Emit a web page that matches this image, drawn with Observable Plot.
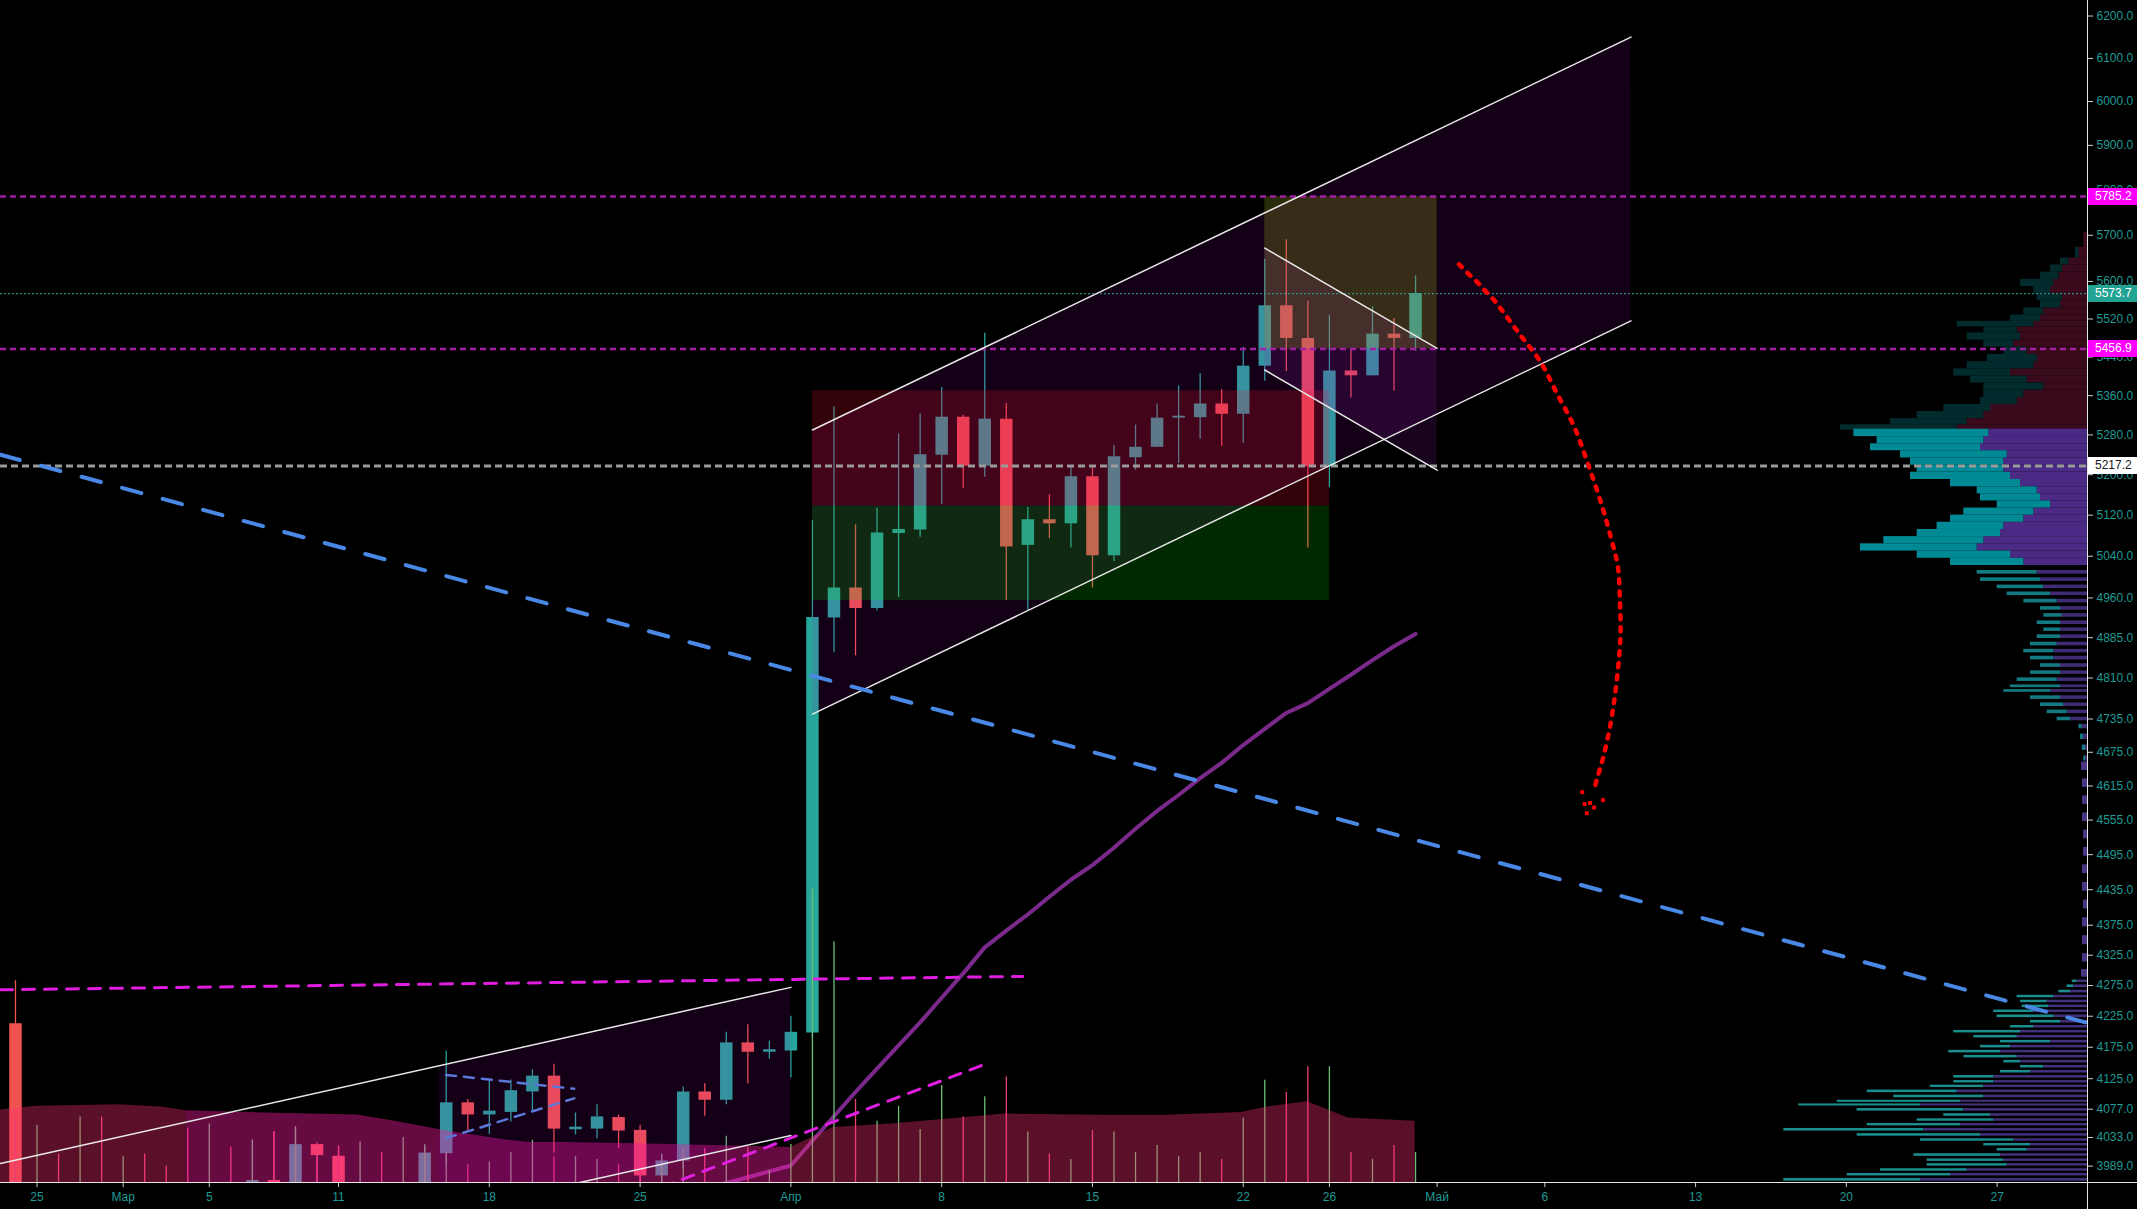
<!DOCTYPE html>
<html><head><meta charset="utf-8">
<script src="https://cdn.jsdelivr.net/npm/d3@7"></script>
<script src="https://cdn.jsdelivr.net/npm/@observablehq/plot@0.6"></script>
<style>
html,body{margin:0;padding:0;background:#000;}
#wrap{position:relative;width:2137px;height:1209px;overflow:hidden;background:#000;font-family:"Liberation Sans","DejaVu Sans",Arial,sans-serif;}
#wrap svg{position:absolute;left:0;top:0;}
#wrap svg [aria-label="y-axis tick"] path,#wrap svg [aria-label="x-axis tick"] path,#wrap svg g[aria-label="y-axis"] line,#wrap svg g[aria-label="x-axis"] line{stroke:#cfcfcf;}
.lbl{position:absolute;left:2088px;width:49px;height:17px;line-height:17px;font-size:12px;padding-left:7px;box-sizing:border-box;font-family:"Liberation Sans","DejaVu Sans",Arial,sans-serif;}
.axl{position:absolute;background:#e6e6e6;}
</style></head><body><div id="wrap"></div>
<script>
// ---------- DATA ----------
// x = days since 25 Feb 2019
const xDomain = [-1.6945, 95.195];
const yDomain = [3964, 6237];
const tickDays = [0, 4, 8, 14, 21, 28, 35, 42, 49, 56, 60, 65, 70, 77, 84, 91];
const tickLabels = ["25", "Мар", "5", "11", "18", "25", "Апр", "8", "15", "22", "26", "Май", "6", "13", "20", "27"];
const yTicks = [6200, 6100, 6000, 5900, 5800, 5700, 5600, 5520, 5440, 5360, 5280, 5200, 5120, 5040, 4960, 4885, 4810, 4735, 4675, 4615, 4555, 4495, 4435, 4375, 4325, 4275, 4225, 4175, 4125, 4077, 4033, 3989];

const candleDay = [-1, 10, 11, 12, 13, 14, 18, 19, 20, 21, 22, 23, 24, 25, 26, 27, 28, 29, 30, 31, 32, 33, 34, 35, 36, 37, 38, 39, 40, 41, 42, 43, 44, 45, 46, 47, 48, 49, 50, 51, 52, 53, 54, 55, 56, 57, 58, 59, 60, 61, 62, 63, 64];
const candleOpen = [4213, 3930, 3967, 3940, 4022, 4004, 3950, 4008, 4087, 4068, 4072, 4104, 4129, 4045, 4046, 4064, 4044, 3974, 3997, 4104, 4091, 4182, 4167, 4169, 4198, 4922, 4979, 4940, 5084, 5091, 5239, 5316, 5217, 5312, 5061, 5111, 5103, 5196, 5041, 5234, 5255, 5314, 5315, 5343, 5322, 5421, 5548, 5479, 5216, 5411, 5401, 5488, 5479];
const candleHigh = [4283, 4029, 4042, 4048, 4025, 4020, 4022, 4169, 4092, 4123, 4123, 4139, 4148, 4071, 4084, 4068, 4052, 4008, 4112, 4117, 4199, 4211, 4185, 4225, 5109, 5337, 5101, 5134, 5282, 5323, 5377, 5320, 5490, 5344, 5135, 5160, 5217, 5217, 5258, 5300, 5343, 5380, 5406, 5372, 5460, 5648, 5690, 5558, 5528, 5456, 5546, 5521, 5612];
const candleLow = [3850, 3900, 3900, 3930, 3960, 3880, 3940, 3990, 4042, 4038, 4057, 4074, 4009, 4037, 4031, 4016, 3950, 3960, 3985, 4066, 4084, 4117, 4156, 4126, 4190, 4857, 4851, 4935, 4961, 5077, 5141, 5173, 5195, 4955, 4935, 5074, 5056, 4979, 5030, 5209, 5254, 5222, 5271, 5257, 5263, 5390, 5410, 5056, 5174, 5355, 5401, 5369, 5452];
const candleClose = [3870, 3967, 3930, 4022, 4005, 3900, 4009, 4087, 4068, 4074, 4106, 4129, 4046, 4049, 4065, 4043, 3974, 3997, 4104, 4091, 4182, 4167, 4171, 4199, 4923, 4979, 4940, 5085, 5092, 5240, 5316, 5217, 5312, 5058, 5111, 5103, 5196, 5041, 5236, 5255, 5314, 5318, 5343, 5322, 5421, 5548, 5479, 5216, 5411, 5401, 5488, 5479, 5574];

const maDay = [30, 31, 32, 33, 34, 35, 36, 37, 38, 39, 40, 41, 42, 43, 44, 45, 46, 47, 48, 49, 50, 51, 52, 53, 54, 55, 56, 57, 58, 59, 60, 61, 62, 63, 64];
const maValue = [3950, 3957, 3963, 3972, 3981, 3990, 4028, 4066, 4104, 4141, 4178, 4215, 4255, 4295, 4338, 4366, 4393, 4423, 4452, 4477, 4507, 4540, 4571, 4599, 4629, 4656, 4688, 4717, 4746, 4764, 4790, 4816, 4843, 4869, 4892];

const volDay = d3.range(-1, 65);
const volValue = [21.4, 19.1, 9.5, 21.8, 21.8, 8.6, 9.5, 5.5, 18.2, 19.5, 11.8, 14.1, 16.8, 18.6, 8.6, 11.8, 13.6, 10.0, 15.0, 12.3, 10.0, 5.9, 6.8, 10.0, 14.1, 8.6, 8.6, 7.7, 5.9, 7.7, 9.1, 11.4, 11.4, 15.4, 11.8, 4.1, 12.7, 97.9, 80.2, 27.7, 20.4, 25.4, 17.7, 32.3, 21.8, 28.6, 35.2, 16.8, 9.5, 7.7, 17.3, 16.8, 10.0, 12.3, 8.6, 10.0, 7.7, 21.5, 34.1, 30.0, 38.6, 38.6, 10.0, 7.7, 12.3, 10.0];
const volRising = [0,1,0,1,0,1,0,0,0,1, 0,1,0,1,0,0,1,0,1,1, 1,0,1,1,1,0,1,1,0,0, 1,1,0,1,0,1,1,1,1,0, 1,1,1,1,0,1,0,1,0,1, 0,1,1,1,1,1,0,1,1,0, 0,1,0,1,0,1];
const volMaDay = [-1.6945, -0.04, 3.78, 5.76, 6.93, 9.91, 14.88, 16.55, 19.03, 21.52, 22.84, 24.30, 28.35, 34.98, 36.97, 39.95, 44.93, 49.37, 52.09, 55.90, 57.06, 58.97, 60.88, 63.98];
const volMaValue = [24.2, 25.4, 25.9, 25.2, 23.9, 23.3, 22.5, 20.5, 17.2, 14.4, 13.3, 13.3, 12.8, 11.7, 18.3, 19.7, 22.8, 22.4, 22.3, 23.3, 25.1, 26.9, 21.5, 20.4];
const volMaPinkFrom = 6.93, volMaPinkTo = 34.98;

// volume profile (price rows, up volume, down volume)
const profTopPrice = [5690, 5658, 5643, 5628, 5612, 5597, 5581, 5566, 5551, 5536, 5521, 5509, 5498, 5483, 5468, 5453, 5438, 5423, 5408, 5393, 5379, 5364, 5349, 5335, 5320, 5306, 5295];
const profTopDown = [3.7, 8.7, 18.7, 25.3, 28.7, 33.7, 37, 25.3, 27, 43.7, 47, 53.7, 70.3, 67, 73.7, 60.3, 50.3, 53.7, 77, 60.3, 43.7, 63.7, 70.3, 97, 103.7, 120.3, 130.3];
const profTopUp = [0, 3.3, 8.3, 11.7, 18.3, 33.3, 16.7, 25, 20, 20, 30, 76.7, 33.3, 53.3, 30, 23.3, 50, 66.7, 56.7, 56.7, 60, 40, 36.7, 46.7, 66.7, 76.7, 116.7];
const profVaPrice = [5284, 5269, 5255, 5241, 5226, 5212, 5198, 5183, 5169, 5155, 5141, 5127, 5113, 5099, 5085, 5071, 5057, 5043, 5029];
const profVaDown = [98.7, 103.7, 107, 80.3, 83.7, 83.7, 77, 67, 50.3, 47, 37, 53.7, 63.7, 83.7, 87, 103.7, 110.3, 77, 63.7];
const profVaUp = [135, 106.7, 110, 106.7, 93.3, 86.7, 100, 70, 60, 60, 53.3, 70, 73.3, 66.7, 83.3, 100, 116.7, 93.3, 73.3];
const profLowPrice = [5009, 4995, 4981, 4968, 4954, 4940, 4927, 4913, 4900, 4887, 4873, 4860, 4847, 4833, 4820, 4807, 4794, 4787, 4774, 4761, 4748, 4735, 4722, 4703, 4683, 4664];
const profLowDown = [50.3, 47, 43.7, 37, 30.3, 27, 25.3, 27, 27, 27, 30.3, 33.7, 33.7, 27, 27, 30.3, 27, 37, 27, 23.7, 20.3, 17, 5.3, 3.7, 2, 2];
const profLowUp = [60, 60, 46.7, 43.3, 33.3, 20, 18.3, 23.3, 16.7, 23.3, 26.7, 30, 23.3, 20, 30, 40, 50, 46.7, 30, 23.3, 20, 13.3, 3.3, 3.3, 3.3, 1.7];
const profThinPrice = [4650, 4620, 4590, 4560, 4530, 4500, 4470, 4440, 4410, 4380, 4350, 4320, 4295];
const profThinDown = [6, 5, 5, 5, 4, 4, 5, 5, 4, 5, 5, 5, 6];
const profThinUp = [0, 0, 0, 0, 0, 0, 0, 0, 0, 0, 0, 0, 0];
const profBotPrice = [4282, 4274, 4265, 4257, 4249, 4241, 4233, 4225, 4216, 4208, 4200, 4192, 4184, 4176, 4168, 4160, 4152, 4144, 4136, 4128, 4120, 4113, 4105, 4097, 4089, 4084, 4076, 4068, 4060, 4053, 4045, 4037, 4029, 4022, 4014, 4006, 3998, 3991, 3983, 3976, 3968];
const profBotDown = [10.3, 13.7, 17, 33.7, 40.3, 38.7, 53.7, 33.7, 27, 53.7, 67, 70.3, 37, 77, 87, 70.3, 67, 43.7, 57, 93.7, 93.7, 103.7, 130.3, 103.7, 127, 167, 123.7, 97, 93.7, 127, 163.7, 107, 73.7, 57, 60.3, 87, 83.7, 80.3, 120.3, 137, 167];
const profBotUp = [5, 6.7, 11.7, 36.7, 26.7, 26.7, 40, 56.7, 30, 23.3, 66.7, 43.3, 50, 30, 51.7, 53.3, 16.7, 23.3, 30, 40, 40, 53.3, 90, 90, 123.3, 121.7, 106.7, 46.7, 76.7, 93.3, 140, 123.3, 93.3, 46.7, 30, 86.7, 76.7, 80, 86.7, 103.3, 136.7];

// drawings
const bigChannelDay = [36, 74], bigChannelLow = [4744, 5516], bigChannelHigh = [5290, 6150];
const smallChannelDay = [-1.6945, 35], smallChannelUpper = [3993, 4272], smallChannelLower = [3773, 4036];
const smallFillDay = [18.68, 35], smallFillLow = [3917, 4036], smallFillHigh = [4146, 4272];
const descChannelDay = [57, 65], descChannelUpper = [5672, 5458], descChannelLower = [5413, 5209];
const redZone = {d1: 36, d2: 60, p1: 5138, p2: 5370};
const greenZone = {d1: 36, d2: 60, p1: 4955, p2: 5138};
const oliveZone = {d1: 57, d2: 65, p1: 5456.9, p2: 5785.2};
const blueTrendDay = [-1.6945, 95.1], blueTrendPrice = [5240, 4215];
const wedgeDay = [18.99, 24.94], wedgeUpper = [4131, 4109], wedgeLower = [4032, 4094];
const magFlatDay = [-1.6945, 45.76], magFlatPrice = [4268, 4290];
const magDiagDay = [29.0, 43.94], magDiagPrice = [3957, 4147];
const arcDay = [66.02, 66.42, 66.83, 67.21, 67.59, 67.90, 68.85, 69.80, 70.56, 71.38, 72.01, 72.65, 73.09, 73.39, 73.49, 73.51, 73.31, 73.07, 72.72, 72.41, 72.27];
const arcPrice = [5637, 5618, 5600, 5581, 5563, 5545, 5487, 5430, 5365, 5295, 5221, 5139, 5073, 5020, 4952, 4885, 4795, 4730, 4667, 4626, 4605];
const arcTipDay = [71.74, 71.85, 72.10, 72.29, 72.70, 71.95];
const arcTipPrice = [4604, 4583, 4585, 4577, 4590, 4567];
const levelMagenta = [5785.2, 5456.9];
const levelGray = 5217.2;
const lastPrice = 5573.7;
const priceLabels = [
  {v: 5785.2, bg: "#ff00ff", fg: "#ffffff"},
  {v: 5573.7, bg: "#22a394", fg: "#ffffff"},
  {v: 5456.9, bg: "#ff00ff", fg: "#ffffff"},
  {v: 5217.2, bg: "#ffffff", fg: "#131722"}
];

// ---------- BUILD ----------
const UP = "#26a69a", DOWN = "#ef5350";
const candles = candleDay.map((d, i) => ({day: d, open: candleOpen[i], high: candleHigh[i], low: candleLow[i], close: candleClose[i]}));
const upC = candles.filter(c => c.close >= c.open), dnC = candles.filter(c => c.close < c.open);
const ma = maDay.map((d, i) => ({day: d, v: maValue[i]}));
const vol = volDay.map((d, i) => ({day: d, v: volValue[i], up: volRising[i] === 1}));
const volMa = volMaDay.map((d, i) => ({day: d, v: volMaValue[i]}));

function rows(prices, ups, downs, frac) {
  const n = prices.length;
  return prices.map((p, i) => {
    const prev = i > 0 ? prices[i - 1] : p * p / prices[i + 1];
    const next = i < n - 1 ? prices[i + 1] : p * p / prices[i - 1];
    let hi = Math.sqrt(p * prev), lo = Math.sqrt(p * next);
    hi = p * Math.pow(hi / p, frac); lo = p * Math.pow(lo / p, frac);
    return {lo, hi, down: downs[i], tot: downs[i] + ups[i]};
  });
}
const W = 2137, H = 1209;
const FONT = '"Liberation Sans","DejaVu Sans",Arial,sans-serif';
const common = {width: W, height: H, marginLeft: 0, marginRight: 50, marginTop: 0, marginBottom: 27};
const Xs = {domain: xDomain, axis: null};
const Ys = {type: "log", domain: yDomain, axis: null};
const wrap = document.getElementById("wrap");

// base: candles, MA, axes
const base = Plot.plot({
  ...common,
  style: {background: "#000", color: "#1f9a94", fontSize: "12px", fontFamily: FONT},
  x: {domain: xDomain, ticks: tickDays, tickFormat: d => tickLabels[tickDays.indexOf(d)], tickSize: 5, tickPadding: 5, label: null},
  y: {type: "log", domain: yDomain, axis: "right", ticks: yTicks, tickFormat: d => d.toFixed(1), tickSize: 5, tickPadding: 4, label: null},
  marks: [
    Plot.ruleX(upC, {x: "day", y1: "low", y2: "high", stroke: UP, strokeWidth: 1.3, clip: true}),
    Plot.ruleX(dnC, {x: "day", y1: "low", y2: "high", stroke: DOWN, strokeWidth: 1.3, clip: true}),
    Plot.ruleX(upC, {x: "day", y1: "open", y2: "close", stroke: UP, strokeWidth: 12.5, clip: true}),
    Plot.ruleX(dnC, {x: "day", y1: "open", y2: "close", stroke: DOWN, strokeWidth: 12.5, clip: true}),
    Plot.line(ma, {x: "day", y: "v", stroke: "#7b2a8c", strokeWidth: 4, clip: true})
  ]
});
wrap.appendChild(base);

// volume overlay
const volPlot = Plot.plot({
  ...common,
  style: {background: "transparent"},
  x: Xs,
  y: {domain: [0, 394], axis: null},
  marks: [
    Plot.ruleX(vol.filter(d => d.up), {x: "day", y1: 0, y2: "v", stroke: "#6dbf78", strokeWidth: 1.3, clip: true}),
    Plot.ruleX(vol.filter(d => !d.up), {x: "day", y1: 0, y2: "v", stroke: "#ec426e", strokeWidth: 1.3, clip: true}),
    Plot.areaY(volMa.filter(d => d.day <= volMaPinkFrom), {x: "day", y: "v", fill: "#ff2d73", fillOpacity: 0.35, clip: true}),
    Plot.areaY(volMa.filter(d => d.day >= volMaPinkFrom && d.day <= volMaPinkTo), {x: "day", y: "v", fill: "#ff1aa6", fillOpacity: 0.4, clip: true}),
    Plot.areaY(volMa.filter(d => d.day >= volMaPinkTo), {x: "day", y: "v", fill: "#ff2d73", fillOpacity: 0.35, clip: true})
  ]
});
wrap.appendChild(volPlot);

// volume profile
const rTop = rows(profTopPrice, profTopUp, profTopDown, 1);
const rVa = rows(profVaPrice, profVaUp, profVaDown, 1);
const rLow = rows(profLowPrice, profLowUp, profLowDown, 0.5);
const rThin = rows(profThinPrice, profThinUp, profThinDown, 0.5);
const rBot = rows(profBotPrice, profBotUp, profBotDown, 0.5);
function prof(r, downC, upC) {
  return [
    Plot.rectX(r, {y1: "lo", y2: "hi", x1: 0, x2: "down", fill: downC}),
    Plot.rectX(r, {y1: "lo", y2: "hi", x1: "down", x2: "tot", fill: upC})
  ];
}
const profPlot = Plot.plot({
  ...common,
  style: {background: "transparent"},
  x: {domain: [0, 800], range: [2087, 1287], axis: null},
  y: Ys,
  marks: [
    ...prof(rTop, "#3a0a1d", "#012b2c"),
    ...prof(rVa, "#4b2a86", "#008a96"),
    ...prof(rLow, "#3f2c74", "#127a80"),
    ...prof(rThin, "#4a3585", "#127a80"),
    ...prof(rBot, "#43307a", "#1a8e8e")
  ]
});
wrap.appendChild(profPlot);

// drawings
const seg = (days, vals) => days.map((d, i) => ({day: d, p: vals[i]}));
const band = (days, lo, hi) => days.map((d, i) => ({day: d, lo: lo[i], hi: hi[i]}));
const WHITE = "#e8e8e8";
const draw = Plot.plot({
  ...common,
  style: {background: "transparent"},
  x: Xs, y: Ys,
  marks: [
    Plot.area(band(bigChannelDay, bigChannelLow, bigChannelHigh), {x1: "day", y1: "lo", y2: "hi", fill: "#b000c8", fillOpacity: 0.11}),
    Plot.area(band(smallFillDay, smallFillLow, smallFillHigh), {x1: "day", y1: "lo", y2: "hi", fill: "#b000c8", fillOpacity: 0.11, clip: true}),
    Plot.rect([redZone], {x1: "d1", x2: "d2", y1: "p1", y2: "p2", fill: "#ff1030", fillOpacity: 0.2}),
    Plot.rect([greenZone], {x1: "d1", x2: "d2", y1: "p1", y2: "p2", fill: "#00ff00", fillOpacity: 0.16}),
    Plot.area(band(descChannelDay, descChannelLower, descChannelUpper), {x1: "day", y1: "lo", y2: "hi", fill: "#a020c0", fillOpacity: 0.15}),
    Plot.rect([oliveZone], {x1: "d1", x2: "d2", y1: "p1", y2: "p2", fill: "#a0b020", fillOpacity: 0.25}),
    Plot.ruleY([lastPrice], {stroke: "#3aaaa2", strokeWidth: 1, strokeDasharray: "2,2"}),
    Plot.ruleY(levelMagenta, {stroke: "#a01fa3", strokeWidth: 2.5, strokeDasharray: "6,4"}),
    Plot.ruleY([levelGray], {stroke: "#9a9a9a", strokeWidth: 3, strokeDasharray: "7,4"}),
    Plot.line(seg(bigChannelDay, bigChannelLow), {x: "day", y: "p", stroke: WHITE, strokeWidth: 1.5}),
    Plot.line(seg(bigChannelDay, bigChannelHigh), {x: "day", y: "p", stroke: WHITE, strokeWidth: 1.5}),
    Plot.line(seg(smallChannelDay, smallChannelUpper), {x: "day", y: "p", stroke: WHITE, strokeWidth: 1.5, clip: true}),
    Plot.line(seg(smallChannelDay, smallChannelLower), {x: "day", y: "p", stroke: WHITE, strokeWidth: 1.5, clip: true}),
    Plot.line(seg(descChannelDay, descChannelUpper), {x: "day", y: "p", stroke: WHITE, strokeWidth: 1.5}),
    Plot.line(seg(descChannelDay, descChannelLower), {x: "day", y: "p", stroke: WHITE, strokeWidth: 1.5}),
    Plot.line(seg(wedgeDay, wedgeUpper), {x: "day", y: "p", stroke: "#5b78d8", strokeWidth: 2.5, strokeDasharray: "10,8"}),
    Plot.line(seg(wedgeDay, wedgeLower), {x: "day", y: "p", stroke: "#5b78d8", strokeWidth: 2.5, strokeDasharray: "10,8"}),
    Plot.line(seg(magFlatDay, magFlatPrice), {x: "day", y: "p", stroke: "#e01ee0", strokeWidth: 3, strokeDasharray: "12,10", clip: true}),
    Plot.line(seg(magDiagDay, magDiagPrice), {x: "day", y: "p", stroke: "#e01ee0", strokeWidth: 3, strokeDasharray: "12,10", clip: true}),
    Plot.line(seg(blueTrendDay, blueTrendPrice), {x: "day", y: "p", stroke: "#4a88e6", strokeWidth: 4, strokeDasharray: "20,22", clip: true}),
    Plot.line(seg(arcDay, arcPrice), {x: "day", y: "p", stroke: "#ff0000", strokeWidth: 4.5, strokeDasharray: "4,8", curve: "catmull-rom"}),
    Plot.dot(seg(arcTipDay, arcTipPrice), {x: "day", y: "p", fill: "#ff0000", r: 2.2, symbol: "square"})
  ]
});
wrap.appendChild(draw);

// axis lines
const vline = document.createElement("div"); vline.className = "axl";
vline.style.cssText += "left:2087px;top:0;width:1px;height:1209px;";
wrap.appendChild(vline);
const hline = document.createElement("div"); hline.className = "axl";
hline.style.cssText += "left:0;top:1182px;width:2137px;height:1px;";
wrap.appendChild(hline);

// price labels on axis
const ys = draw.scale("y");
for (const l of priceLabels) {
  const d = document.createElement("div");
  d.className = "lbl";
  d.style.top = (ys.apply(l.v) - 8.5) + "px";
  d.style.background = l.bg; d.style.color = l.fg;
  d.textContent = l.v.toFixed(1);
  wrap.appendChild(d);
}
</script></body></html>
